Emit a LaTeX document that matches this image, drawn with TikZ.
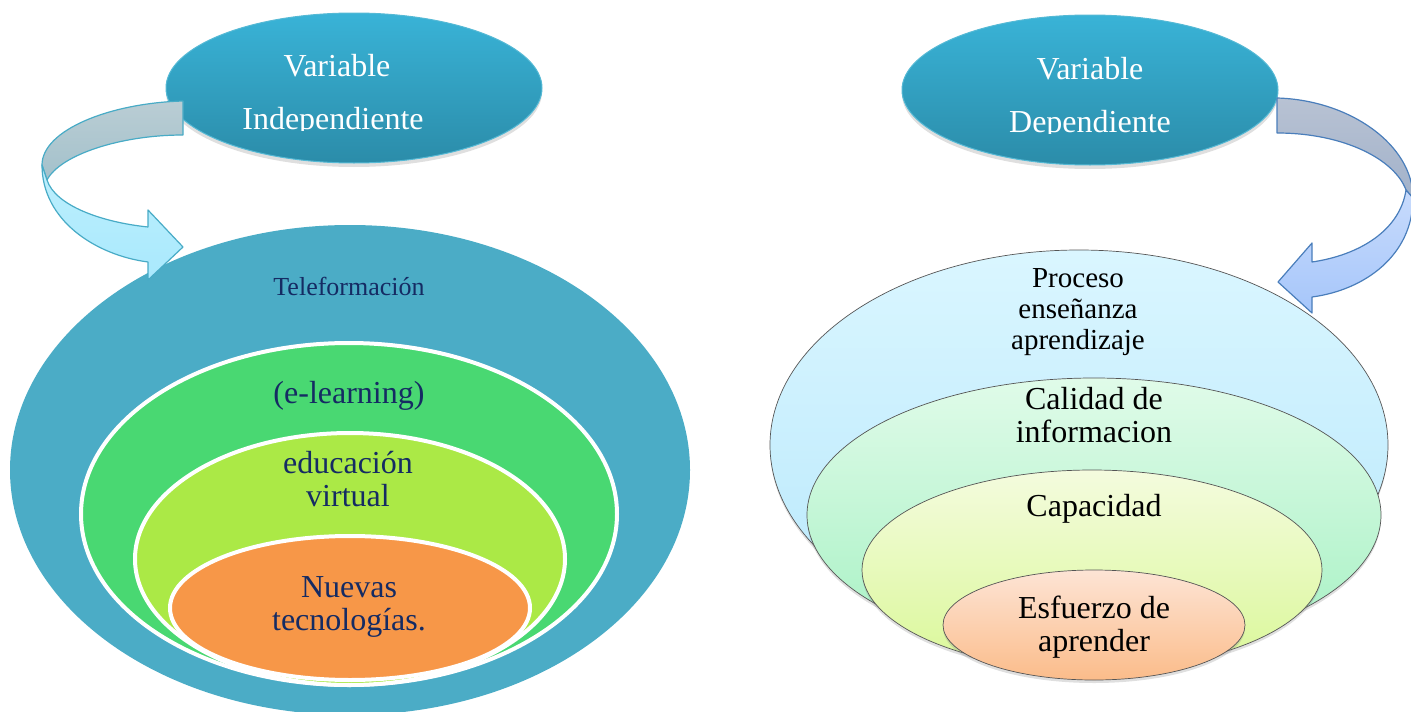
\documentclass[tikz,border=0pt]{standalone}
\usepackage{fontspec}
\setmainfont{Liberation Serif}
\usetikzlibrary{shapes.geometric,shadows}
\definecolor{cTeal}{HTML}{4BACC6}
\definecolor{cTopA}{HTML}{39B3D7}
\definecolor{cTopB}{HTML}{2B8CA9}
\definecolor{cTopEdge}{HTML}{55B9D5}
\definecolor{cGreen}{HTML}{49D872}
\definecolor{cLime}{HTML}{ABE946}
\definecolor{cOrange}{HTML}{F79748}
\definecolor{cNavy}{HTML}{152B63}
\definecolor{cBlueA}{HTML}{DAF6FF}
\definecolor{cBlueB}{HTML}{B8E8FC}
\definecolor{cMintA}{HTML}{E0FBE9}
\definecolor{cMintB}{HTML}{A6F1C3}
\definecolor{cYelA}{HTML}{F4FBDE}
\definecolor{cYelB}{HTML}{DAF898}
\definecolor{cPeachA}{HTML}{FDE4D5}
\definecolor{cPeachB}{HTML}{FBBC8A}
\definecolor{cEdge}{HTML}{555555}
\definecolor{cLArrEdge}{HTML}{48ABC6}
\definecolor{cLGreyA}{HTML}{BACDD4}
\definecolor{cLGreyB}{HTML}{A3C1CB}
\definecolor{cLCyanA}{HTML}{BDEFFD}
\definecolor{cLCyanB}{HTML}{A9E9FD}
\definecolor{cRArrEdge}{HTML}{4A7EBB}
\definecolor{cRGreyA}{HTML}{B8C2D3}
\definecolor{cRGreyB}{HTML}{A2B2CA}
\definecolor{cRBlueA}{HTML}{C8DBFC}
\definecolor{cRBlueB}{HTML}{A6C6FA}
\tikzset{
  topell/.style={ellipse, draw=cTopEdge, line width=1pt, top color=cTopA, bottom color=cTopB,
    minimum width=376pt, minimum height=150pt, inner sep=0pt,
    drop shadow={shadow xshift=0pt, shadow yshift=-4pt, opacity=0.25}},
  wnest/.style={ellipse, draw=white, line width=4pt, inner sep=0pt},
  rnest/.style={ellipse, draw=cEdge, line width=0.7pt, inner sep=0pt,
    drop shadow={shadow xshift=0pt, shadow yshift=-3pt, opacity=0.25}},
  toptext/.style={text=white, font=\fontsize{32}{34}\selectfont, inner sep=0pt},
  navytext/.style={text=cNavy, font=\fontsize{32}{33}\selectfont, align=center, inner sep=0pt},
  blacktext/.style={text=black, font=\fontsize{32}{33}\selectfont, align=center, inner sep=0pt},
  larrow/.style={draw=cLArrEdge, line width=1.2pt, line join=round},
  rarrow/.style={draw=cRArrEdge, line width=1.2pt, line join=round},
}
\begin{document}
\begin{tikzpicture}[x=1pt,y=-1pt]
\useasboundingbox (0,0) rectangle (1411,712);
% ---------- left side ----------
\node[ellipse, fill=cTeal, minimum width=680pt, minimum height=490pt, inner sep=0pt] (tele) at (350,470) {};
\node[wnest, fill=cGreen, minimum width=536pt, minimum height=342pt] (elearn) at (349,514) {};
\node[wnest, fill=cLime, minimum width=430pt, minimum height=252pt] (edu) at (350,559) {};
\node[wnest, fill=cOrange, minimum width=360pt, minimum height=144pt] (nuevas) at (350,608) {};
\node[text=cNavy, font=\fontsize{26}{28}\selectfont, inner sep=0pt] (teletxt) at (349,286) {Teleformación};
\node[navytext] (elearntxt) at (349,396) {(e-learning)};
\node[navytext] (edutxt) at (348,479) {educación\\virtual};
\node[navytext] (nuevastxt) at (349,607) {Nuevas\\tecnologías.};
\node[topell] (vind) at (354,88) {};
\node[toptext, anchor=base] (vind1) at (337,76) {Variable};
\begin{scope}
\clip (200,90) rectangle (520,130);
\node[toptext, anchor=base] (vind2) at (333,129) {Independiente};
\end{scope}
% left curved arrow
\path[larrow, top color=cLGreyA, bottom color=cLGreyB]
  (183,101) .. controls (110,103) and (42,130) .. (42,165) -- (47,180)
  .. controls (60,155) and (120,135) .. (183,135) -- cycle;
\path[larrow, top color=cLCyanA, bottom color=cLCyanB]
  (42,165) .. controls (42,220) and (95,255) .. (148,262) -- (148,280) -- (183,247)
  -- (148,210) -- (148,227) .. controls (100,222) and (55,205) .. (47,180) -- cycle;
% ---------- right side ----------
\node[rnest, top color=cBlueA, bottom color=cBlueB, minimum width=618pt, minimum height=390pt] (proc) at (1079,445) {};
\node[rnest, top color=cMintA, bottom color=cMintB, minimum width=574pt, minimum height=274pt] (cal) at (1094,515) {};
\node[rnest, top color=cYelA, bottom color=cYelB, minimum width=460pt, minimum height=200pt] (cap) at (1092,570) {};
\node[rnest, top color=cPeachA, bottom color=cPeachB, minimum width=302pt, minimum height=110pt] (esf) at (1094,625) {};
\node[blacktext, font=\fontsize{29}{31}\selectfont] (proctxt) at (1078,312) {Proceso\\enseñanza\\aprendizaje};
\node[blacktext] (caltxt) at (1094,415) {Calidad de\\informacion};
\node[blacktext] (captxt) at (1094,509) {Capacidad};
\node[blacktext] (esftxt) at (1094,627) {Esfuerzo de\\aprender};
\node[topell] (vdep) at (1090,90) {};
\node[toptext, anchor=base] (vdep1) at (1090,79) {Variable};
\begin{scope}
\clip (950,90) rectangle (1240,133);
\node[toptext, anchor=base] (vdep2) at (1090,132) {Dependiente};
\end{scope}
% right curved arrow
\path[rarrow, top color=cRGreyA, bottom color=cRGreyB]
  (1277,98) .. controls (1350,100) and (1413,145) .. (1413,198) -- (1406,190)
  .. controls (1395,160) and (1345,133) .. (1277,133) -- cycle;
\path[rarrow, top color=cRBlueA, bottom color=cRBlueB]
  (1413,198) .. controls (1413,255) and (1365,290) .. (1312,297) -- (1312,313) -- (1278,282)
  -- (1312,243) -- (1312,262) .. controls (1360,255) and (1400,230) .. (1406,190) -- cycle;
\end{tikzpicture}
\end{document}
